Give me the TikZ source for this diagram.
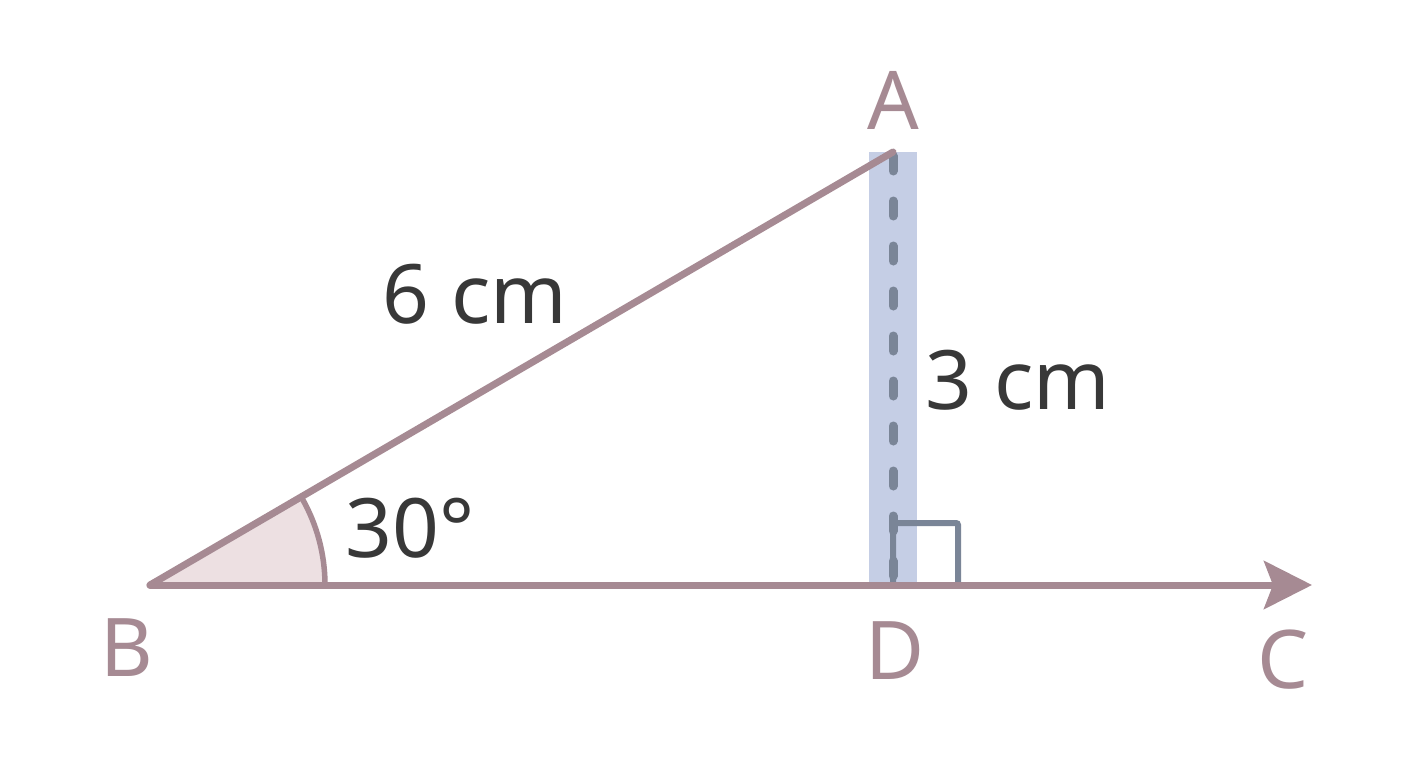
\documentclass[tikz,border=0pt]{standalone}
\usepackage{fontspec}
\setmainfont{Noto Sans}
\usetikzlibrary{arrows.meta}
\definecolor{mauve}{HTML}{A68A93}
\definecolor{band}{HTML}{C5CEE5}
\definecolor{slate}{HTML}{7A8597}
\definecolor{ink}{HTML}{383838}
\definecolor{anglefill}{HTML}{EDE0E2}
\tikzset{
  edge/.style={draw=mauve, line width=7pt, line cap=round, line join=round},
  ptlabel/.style={text=mauve, font=\fontsize{81}{81}\selectfont, inner sep=0pt},
  measure/.style={text=ink, font=\fontsize{82}{82}\selectfont, inner sep=0pt},
}
\begin{document}
\begin{tikzpicture}[x=1pt,y=-1pt]
\useasboundingbox[fill=white] (0,0) rectangle (1408,768);
\coordinate (B) at (150,585);
\coordinate (A) at (893,152);
\coordinate (D) at (893,585);
\coordinate (C) at (1312,585);
\coordinate (S1) at (893,523);
\coordinate (S2) at (958,523);
\coordinate (S3) at (958,585);
% band
\fill[band] (869,152) rectangle (917,585);
% dashed altitude
\draw[slate, line width=9pt, line cap=round, dash pattern=on 15pt off 30pt, dash phase=-4pt] (A) -- (D);
% right angle mark
\draw[slate, line width=6pt, rounded corners=2pt] (D) -- (S1) -- (S2) -- (S3);
% angle
\fill[anglefill] (B) -- (325,585) arc[start angle=0, end angle=-30, radius=175] -- cycle;
\draw[mauve, line width=5.5pt] (325,585) arc[start angle=0, end angle=-30, radius=175];
% base with arrow
\draw[edge, -{Stealth[length=48pt, width=48pt, inset=9pt]}] (B) -- (C);
% hypotenuse
\draw[edge] (B) -- (A);
% labels
\node[ptlabel] (lA) at (893,100) {A};
\node[ptlabel] (lB) at (127,648) {B};
\node[ptlabel] (lD) at (895,651) {D};
\node[ptlabel] (lC) at (1283,660) {C};
\node[measure] (m6) at (475,294) {6 cm};
\node[measure] (m3) at (1018,380) {3 cm};
\node[measure] (m30) at (410,528) {30°};
\end{tikzpicture}
\end{document}
